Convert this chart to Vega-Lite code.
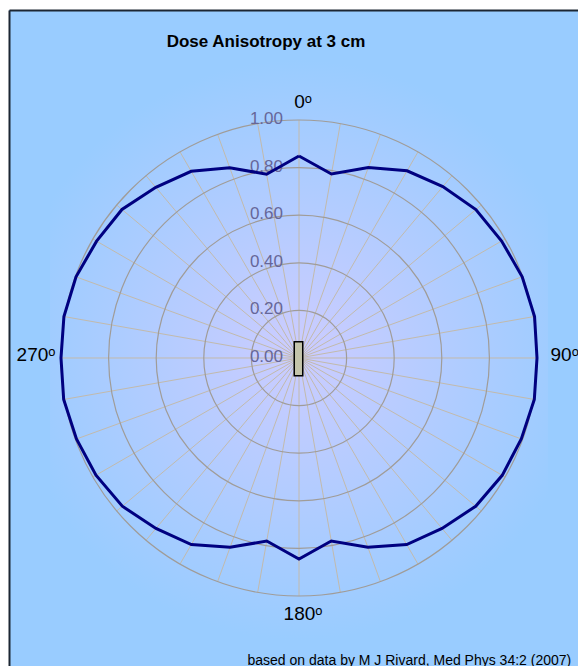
{
  "$schema": "https://vega.github.io/schema/vega-lite/v6.json",
  "width": 569,
  "height": 656,
  "padding": {"left": 9, "top": 10, "right": 0, "bottom": 0},
  "autosize": {"type": "none"},
  "background": "white",
  "config": {"view": {"stroke": null, "fill": "#99CCFF"}, "font": "Liberation Sans"},
  "title": {"text": "Dose Anisotropy at 3 cm", "anchor": "middle", "offset": -54, "dx": -27.5, "baseline": "alphabetic", "fontSize": 17, "fontWeight": "bold", "color": "#000000", "font": "Liberation Sans"},
  "datasets": {
    "dose": [
      {"a": 0, "v": 0.849}, {"a": 10, "v": 0.785}, {"a": 20, "v": 0.852}, {"a": 30, "v": 0.908},
      {"a": 40, "v": 0.94}, {"a": 50, "v": 0.97}, {"a": 60, "v": 0.983}, {"a": 70, "v": 0.998},
      {"a": 80, "v": 1.005}, {"a": 90, "v": 1.0}, {"a": 100, "v": 1.004}, {"a": 110, "v": 0.994},
      {"a": 120, "v": 0.986}, {"a": 130, "v": 0.969}, {"a": 140, "v": 0.935}, {"a": 150, "v": 0.905},
      {"a": 160, "v": 0.846}, {"a": 170, "v": 0.781}, {"a": 180, "v": 0.845}, {"a": 190, "v": 0.781},
      {"a": 200, "v": 0.846}, {"a": 210, "v": 0.905}, {"a": 220, "v": 0.935}, {"a": 230, "v": 0.969},
      {"a": 240, "v": 0.985}, {"a": 250, "v": 0.995}, {"a": 260, "v": 1.004}, {"a": 270, "v": 1.0},
      {"a": 280, "v": 1.003}, {"a": 290, "v": 0.997}, {"a": 300, "v": 0.982}, {"a": 310, "v": 0.971},
      {"a": 320, "v": 0.936}, {"a": 330, "v": 0.906}, {"a": 340, "v": 0.851}, {"a": 350, "v": 0.784},
      {"a": 360, "v": 0.849}
    ],
    "rings": [{"v": 0}, {"v": 0.2}, {"v": 0.4}, {"v": 0.6}, {"v": 0.8}, {"v": 1.0}],
    "dirs": [{"a": 0, "t": "0ᵒ"}, {"a": 90, "t": "90ᵒ"}, {"a": 180, "t": "180ᵒ"}, {"a": 270, "t": "270ᵒ"}],
    "center": [{"item": "source"}]
  },
  "resolve": {"axis": {"x": "independent", "y": "independent"}},
  "layer": [
    {
      "data": {"name": "center"},
      "transform": [{"calculate": "0", "as": "o"}],
      "mark": {"type": "point", "shape": "M-1,-1.197L1,-1.197L1,1.133L-1,1.133Z", "filled": true, "opacity": 1, "strokeWidth": 0,
        "fill": {"gradient": "radial", "x1": 0.5, "y1": 0.5, "r1": 0, "x2": 0.5, "y2": 0.5, "r2": 0.5,
          "stops": [{"offset": 0, "color": "#CCCCFF"}, {"offset": 1, "color": "#99CCFF"}]}},
      "encoding": {
        "x": {"field": "o", "type": "quantitative", "scale": {"domain": [-1.21849, 1.17227], "nice": false, "zero": false},
          "axis": {"orient": "top", "domain": true, "domainColor": "#1c2633", "domainWidth": 2, "ticks": false, "labels": false, "grid": false, "title": null}},
        "y": {"field": "o", "type": "quantitative", "scale": {"domain": [-1.29412, 1.46218], "nice": false, "zero": false},
          "axis": {"orient": "left", "domain": true, "domainColor": "#1c2633", "domainWidth": 2, "ticks": false, "labels": false, "grid": false, "title": null}},
        "size": {"value": 248004}
      }
    },
    {
      "data": {"name": "dose"},
      "transform": [
        {"filter": "datum.a < 360"},
        {"calculate": "0", "as": "o"},
        {"calculate": "sin(datum.a*PI/180)", "as": "sx"},
        {"calculate": "cos(datum.a*PI/180)", "as": "sy"}
      ],
      "mark": {"type": "rule", "stroke": "#C2BAAC", "strokeWidth": 1},
      "encoding": {
        "x": {"field": "o", "type": "quantitative", "scale": {"domain": [-1.21849, 1.17227], "nice": false, "zero": false}, "axis": null},
        "y": {"field": "o", "type": "quantitative", "scale": {"domain": [-1.29412, 1.46218], "nice": false, "zero": false}, "axis": null},
        "x2": {"field": "sx"},
        "y2": {"field": "sy"}
      }
    },
    {
      "data": {"name": "rings"},
      "transform": [{"calculate": "0", "as": "o"}],
      "mark": {"type": "point", "shape": "circle", "filled": false, "color": "#A09C98", "stroke": "#A09C98", "strokeWidth": 1.2, "opacity": 1},
      "encoding": {
        "x": {"field": "o", "type": "quantitative", "scale": {"domain": [-1.21849, 1.17227], "nice": false, "zero": false}, "axis": null},
        "y": {"field": "o", "type": "quantitative", "scale": {"domain": [-1.29412, 1.46218], "nice": false, "zero": false}, "axis": null},
        "size": {"field": "v", "type": "quantitative", "legend": null, "scale": {"type": "pow", "exponent": 2, "domain": [0, 1], "range": [0, 226576], "zero": true, "nice": false}}
      }
    },
    {
      "data": {"name": "rings"},
      "transform": [{"calculate": "0", "as": "o"}],
      "mark": {"type": "text", "align": "right", "baseline": "middle", "dx": -16, "dy": -1, "fontSize": 17, "color": "#666699"},
      "encoding": {
        "x": {"field": "o", "type": "quantitative", "scale": {"domain": [-1.21849, 1.17227], "nice": false, "zero": false}, "axis": null},
        "y": {"field": "v", "type": "quantitative", "scale": {"domain": [-1.29412, 1.46218], "nice": false, "zero": false}, "axis": null},
        "text": {"field": "v", "type": "quantitative", "format": ".2f"}
      }
    },
    {
      "data": {"name": "dose"},
      "transform": [
        {"calculate": "datum.v*sin(datum.a*PI/180)", "as": "lx"},
        {"calculate": "datum.v*cos(datum.a*PI/180)", "as": "ly"}
      ],
      "mark": {"type": "line", "stroke": "#000080", "color": "#000080", "strokeWidth": 3, "strokeJoin": "miter"},
      "encoding": {
        "x": {"field": "lx", "type": "quantitative", "scale": {"domain": [-1.21849, 1.17227], "nice": false, "zero": false},
          "axis": {"orient": "bottom", "domain": false, "ticks": false, "labels": false, "grid": false,
            "title": "based on data by M J Rivard, Med Phys 34:2 (2007)", "titleAnchor": "start", "titleAlign": "left", "titleX": 238, "titleY": -2,
            "titleBaseline": "alphabetic", "titleFontSize": 14, "titleFontWeight": "normal", "titleColor": "#000000", "titleFont": "Liberation Sans"}},
        "y": {"field": "ly", "type": "quantitative", "scale": {"domain": [-1.29412, 1.46218], "nice": false, "zero": false}, "axis": null},
        "order": {"field": "a", "type": "quantitative"}
      }
    },
    {
      "data": {"name": "center"},
      "transform": [{"calculate": "0", "as": "o"}],
      "mark": {"type": "point", "shape": "M-0.28,-0.96L0.22,-0.96L0.22,1.04L-0.28,1.04Z", "filled": true, "opacity": 1, "fill": "#C4C4AA", "stroke": "#000000", "strokeWidth": 1.5},
      "encoding": {
        "x": {"field": "o", "type": "quantitative", "scale": {"domain": [-1.21849, 1.17227], "nice": false, "zero": false}, "axis": null},
        "y": {"field": "o", "type": "quantitative", "scale": {"domain": [-1.29412, 1.46218], "nice": false, "zero": false}, "axis": null},
        "size": {"value": 1156}
      }
    },
    {
      "data": {"name": "dirs"},
      "transform": [
        {"filter": "datum.a == 0 || datum.a == 180"},
        {"calculate": "1.04*sin(datum.a*PI/180)", "as": "tx"},
        {"calculate": "1.075*cos(datum.a*PI/180)", "as": "ty"}
      ],
      "mark": {"type": "text", "align": "center", "baseline": "middle", "fontSize": 19, "color": "#000000", "dx": 4},
      "encoding": {
        "x": {"field": "tx", "type": "quantitative", "scale": {"domain": [-1.21849, 1.17227], "nice": false, "zero": false}, "axis": null},
        "y": {"field": "ty", "type": "quantitative", "scale": {"domain": [-1.29412, 1.46218], "nice": false, "zero": false}, "axis": null},
        "text": {"field": "t", "type": "nominal"}
      }
    },
    {
      "data": {"name": "dirs"},
      "transform": [
        {"filter": "datum.a == 90"},
        {"calculate": "1.04*sin(datum.a*PI/180)", "as": "tx"},
        {"calculate": "1.075*cos(datum.a*PI/180)", "as": "ty"}
      ],
      "mark": {"type": "text", "align": "left", "baseline": "middle", "fontSize": 19, "color": "#000000", "dx": 4, "dy": -3},
      "encoding": {
        "x": {"field": "tx", "type": "quantitative", "scale": {"domain": [-1.21849, 1.17227], "nice": false, "zero": false}, "axis": null},
        "y": {"field": "ty", "type": "quantitative", "scale": {"domain": [-1.29412, 1.46218], "nice": false, "zero": false}, "axis": null},
        "text": {"field": "t", "type": "nominal"}
      }
    },
    {
      "data": {"name": "dirs"},
      "transform": [
        {"filter": "datum.a == 270"},
        {"calculate": "1.04*sin(datum.a*PI/180)", "as": "tx"},
        {"calculate": "1.075*cos(datum.a*PI/180)", "as": "ty"}
      ],
      "mark": {"type": "text", "align": "right", "baseline": "middle", "fontSize": 19, "color": "#000000", "dx": 4, "dy": -3},
      "encoding": {
        "x": {"field": "tx", "type": "quantitative", "scale": {"domain": [-1.21849, 1.17227], "nice": false, "zero": false}, "axis": null},
        "y": {"field": "ty", "type": "quantitative", "scale": {"domain": [-1.29412, 1.46218], "nice": false, "zero": false}, "axis": null},
        "text": {"field": "t", "type": "nominal"}
      }
    }
  ]
}
